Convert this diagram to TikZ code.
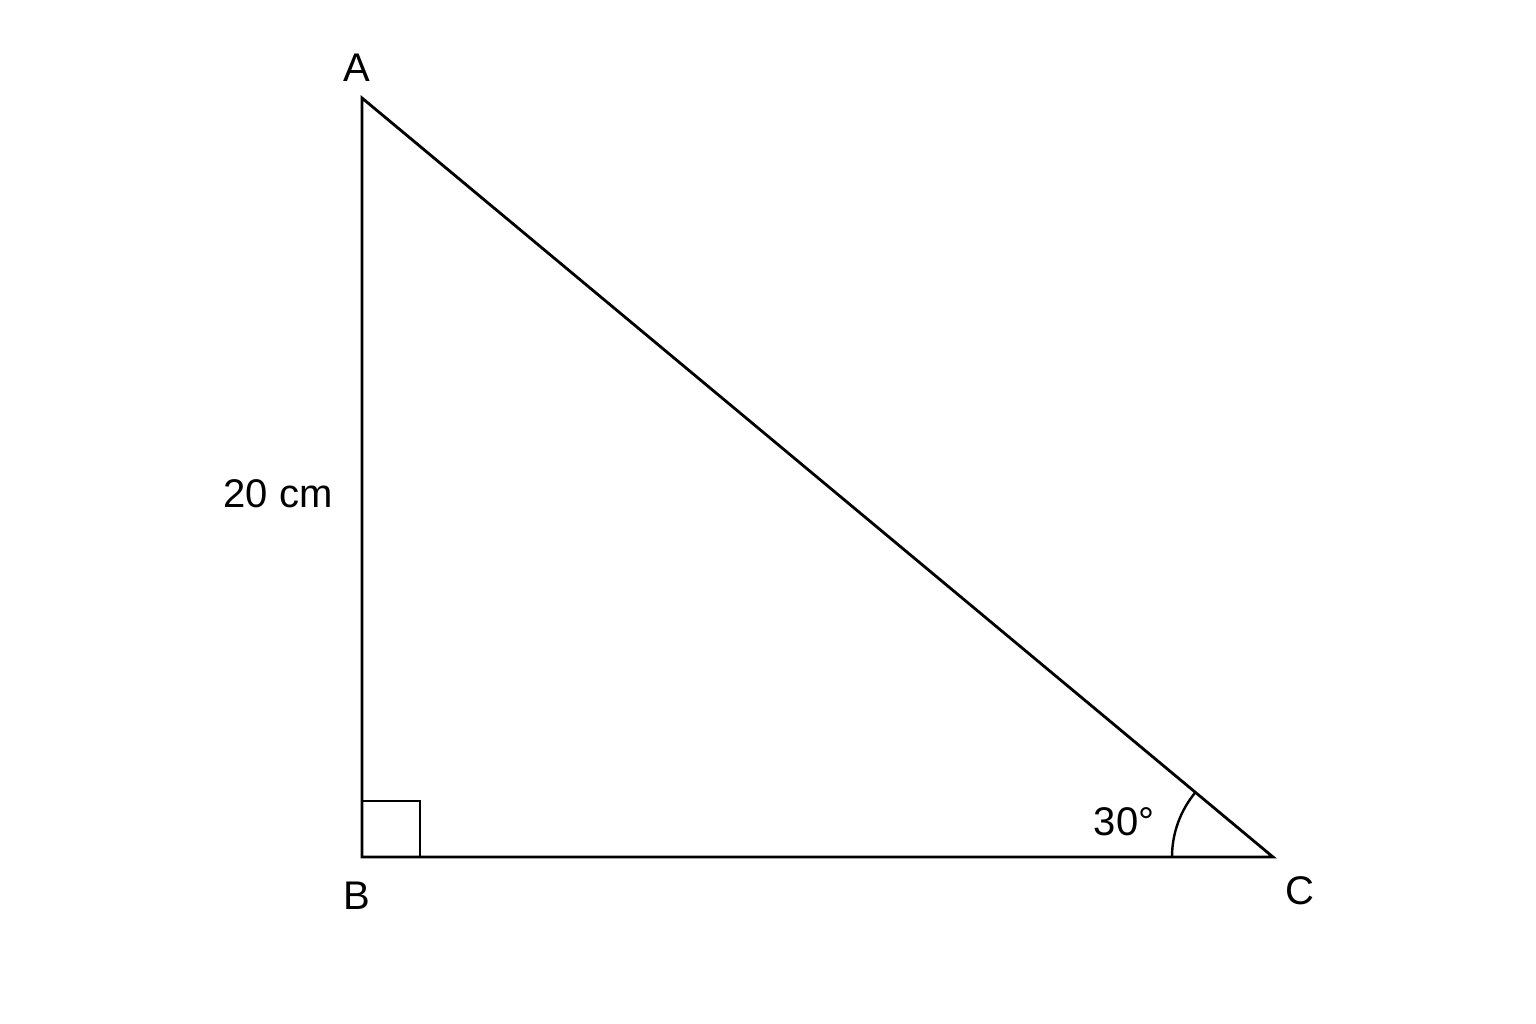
\documentclass[tikz,border=0pt]{standalone}
\usepackage{fontspec}
\setmainfont{Liberation Sans}
\begin{document}
\begin{tikzpicture}[x=1pt,y=-1pt,
  lbl/.style={font=\fontsize{40}{46}\selectfont, inner sep=0pt},
  edge/.style={line width=2.8pt, line join=miter}]
\useasboundingbox (0,0) rectangle (1536,1024);
\fill[white] (0,0) rectangle (1536,1024);
\coordinate (A) at (362,98);
\coordinate (B) at (362,857);
\coordinate (C) at (1273,857);
\draw[edge] (A) -- (B) -- (C) -- cycle;
\draw[line width=2.4pt] (362,801) -- (420,801) -- (420,857);
\draw[line width=2.4pt] ([xshift=-101pt]C) arc[start angle=180, end angle=140.2, radius=101pt];
\node[lbl] (la) at (357,68) {A};
\node[lbl] (lb) at (357,896) {B};
\node[lbl] (lc) at (1300,891) {C};
\node[lbl] (side) at (278,494) {20 cm};
\node[lbl] (ang) at (1124,822) {30°};
\end{tikzpicture}
\end{document}
